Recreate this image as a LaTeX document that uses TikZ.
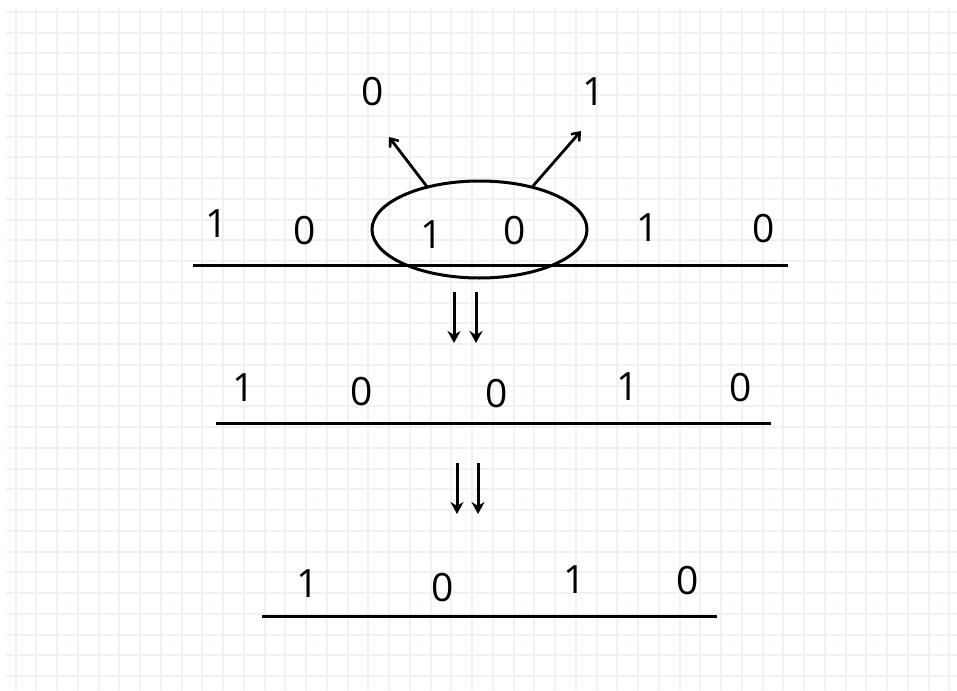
\documentclass[tikz,border=0pt]{standalone}
\usepackage{fontspec}
\setmainfont{Open Sans}
\usetikzlibrary{arrows.meta,shapes.geometric}
\definecolor{gridc}{HTML}{EDF1F8}
\tikzset{
  digit/.style={inner sep=0pt, font=\fontsize{39}{41}\selectfont},
  baseline/.style={line width=3pt},
  outarrow/.style={line width=2.8pt, -{Straight Barb[length=7pt,width=11pt,line width=2.6pt]}},
  downarrow/.style={line width=3pt, -{Stealth[length=12pt,width=13pt]}},
  gridline/.style={draw=gridc, line width=2pt}
}
\begin{document}
\begin{tikzpicture}[x=1pt,y=-1pt]
\useasboundingbox (0,0) rectangle (957,690);
\fill[white] (0,0) rectangle (957,690);
% grid
\foreach \k in {0,...,45} {\draw[gridline] ({15.7+20.75*\k},8) -- ({15.7+20.75*\k},690);}
\foreach \k in {0,...,32} {\draw[gridline] (6,{12+20.75*\k}) -- (957,{12+20.75*\k});}

% row 1
\node[digit] (a1) at (217,224) {1};
\node[digit] (a2) at (305,231) {0};
\node[digit] (a3) at (432,235) {1};
\node[digit] (a4) at (515,231) {0};
\node[digit] (a5) at (648,228) {1};
\node[digit] (a6) at (764,229) {0};
\coordinate (l1s) at (193,265.5);
\coordinate (l1e) at (788,265.5);
\draw[baseline] (l1s) -- (l1e);
\node[draw, ellipse, line width=3pt, minimum width=215pt, minimum height=97pt, inner sep=0pt] (ell) at (479.5,229.5) {};

% split arrows
\node[digit] (t0) at (373,92) {0};
\node[digit] (t1) at (594,92) {1};
\coordinate (p0) at (428,188);
\coordinate (q0) at (389,137);
\coordinate (p1) at (533,186);
\coordinate (q1) at (581,131);
\draw[outarrow] (p0) -- (q0);
\draw[outarrow] (p1) -- (q1);

% down arrows 1
\coordinate (d1a) at (454,292);
\coordinate (d1b) at (454,343);
\coordinate (d1c) at (476,292);
\coordinate (d1d) at (476,343);
\draw[downarrow] (d1a) -- (d1b);
\draw[downarrow] (d1c) -- (d1d);

% row 2
\node[digit] (b1) at (244,388) {1};
\node[digit] (b2) at (362,392) {0};
\node[digit] (b3) at (496.5,394) {0};
\node[digit] (b4) at (628,387) {1};
\node[digit] (b5) at (741,388) {0};
\coordinate (l2s) at (216,423.5);
\coordinate (l2e) at (771,423.5);
\draw[baseline] (l2s) -- (l2e);

% down arrows 2
\coordinate (d2a) at (457,463);
\coordinate (d2b) at (457,514);
\coordinate (d2c) at (478,463);
\coordinate (d2d) at (478,514);
\draw[downarrow] (d2a) -- (d2b);
\draw[downarrow] (d2c) -- (d2d);

% row 3
\node[digit] (c1) at (308,584) {1};
\node[digit] (c2) at (443,588) {0};
\node[digit] (c3) at (575,580) {1};
\node[digit] (c4) at (687.5,581) {0};
\coordinate (l3s) at (262,616.5);
\coordinate (l3e) at (717,616.5);
\draw[baseline] (l3s) -- (l3e);
\end{tikzpicture}
\end{document}
